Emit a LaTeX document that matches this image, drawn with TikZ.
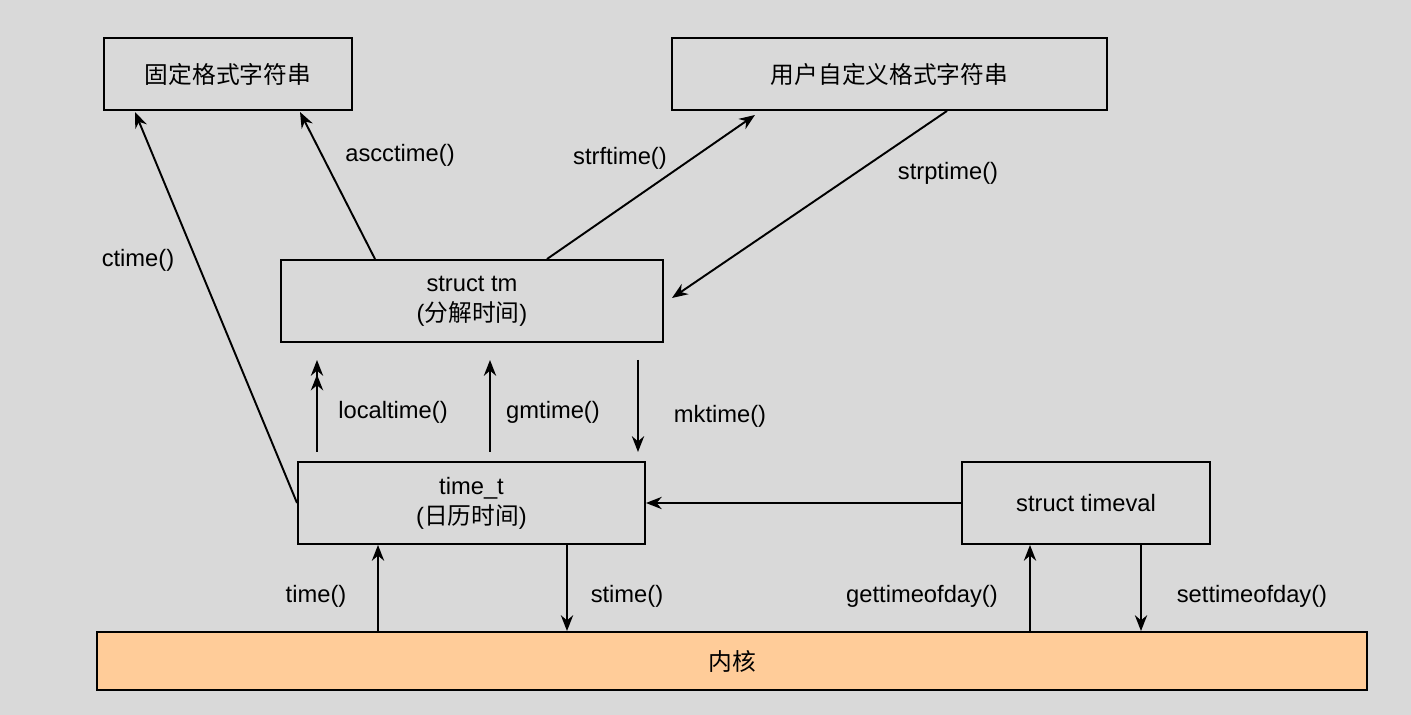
\documentclass[tikz,border=0pt]{standalone}
\usepackage{fontspec}
\setmainfont{Liberation Sans}
\newfontfamily\cjk{Noto Sans CJK SC}
\usetikzlibrary{arrows.meta}

\begin{document}
\begin{tikzpicture}[x=0.02cm,y=-0.02cm,font=\fontsize{13.5}{17}\selectfont]
\tikzstyle{box} = [rectangle, draw, line width=1.1pt, align=center, inner sep=0pt]
\tikzstyle{line} = [draw, line width=1.1pt, -{Stealth[length=9pt,width=7pt]}]
\tikzstyle{lbl} = [inner sep=1pt]
\fill[gray!30] (0,0) rectangle (1411,715);
\useasboundingbox (0,0) rectangle (1411,715);
% boxes
\node [box, minimum width=248*0.02cm, minimum height=72*0.02cm] (fixed) at (228,74) {\cjk 固定格式字符串};
\node [box, minimum width=435*0.02cm, minimum height=72*0.02cm] (custom) at (889.5,74) {\cjk 用户自定义格式字符串};
\node [box, minimum width=382*0.02cm, minimum height=82*0.02cm] (tm) at (472,301) {struct tm\\({\cjk 分解时间})};
\node [box, minimum width=347*0.02cm, minimum height=82*0.02cm] (tt) at (471.5,503) {time\_t\\({\cjk 日历时间})};
\node [box, minimum width=248*0.02cm, minimum height=82*0.02cm] (tv) at (1086,503) {struct timeval};
\node [box, fill={rgb,255:red,255;green,204;blue,153}, minimum width=1270*0.02cm, minimum height=58*0.02cm] (kernel) at (732,661) {\cjk 内核};
% connectors
\path [line] (tt.west) -- (135,112) coordinate (c1);
\node [lbl] at (138,260) {ctime()};
\path [line] (tm.north -| 375,0) -- (300,112);
\node [lbl] at (400,155) {ascctime()};
\path [line] (tm.north -| 547,0) -- (755,115);
\node [lbl] at (620,158) {strftime()};
\path [line] (custom.south -| 947,0) -- (672,298);
\node [lbl] at (948,173) {strptime()};
\path [line] (317,452) -- (tm.south -| 317,0) [shorten >=18pt];
\path [line] (317,452) -- (317,360);
\node [lbl] at (393,412) {localtime()};
\path [line] (490,452) -- (490,360);
\node [lbl] at (553,412) {gmtime()};
\path [line] (638,360) -- (638,452);
\node [lbl] at (720,416) {mktime()};
\path [line] (tv.west) -- (tt.east);
\path [line] (kernel.north -| 378,0) -- (tt.south -| 378,0);
\node [lbl] at (316,596) {time()};
\path [line] (tt.south -| 567,0) -- (kernel.north -| 567,0);
\node [lbl] at (627,596) {stime()};
\path [line] (kernel.north -| 1030,0) -- (tv.south -| 1030,0);
\node [lbl] at (922,596) {gettimeofday()};
\path [line] (tv.south -| 1141,0) -- (kernel.north -| 1141,0);
\node [lbl] at (1252,596) {settimeofday()};
\end{tikzpicture}
\end{document}
